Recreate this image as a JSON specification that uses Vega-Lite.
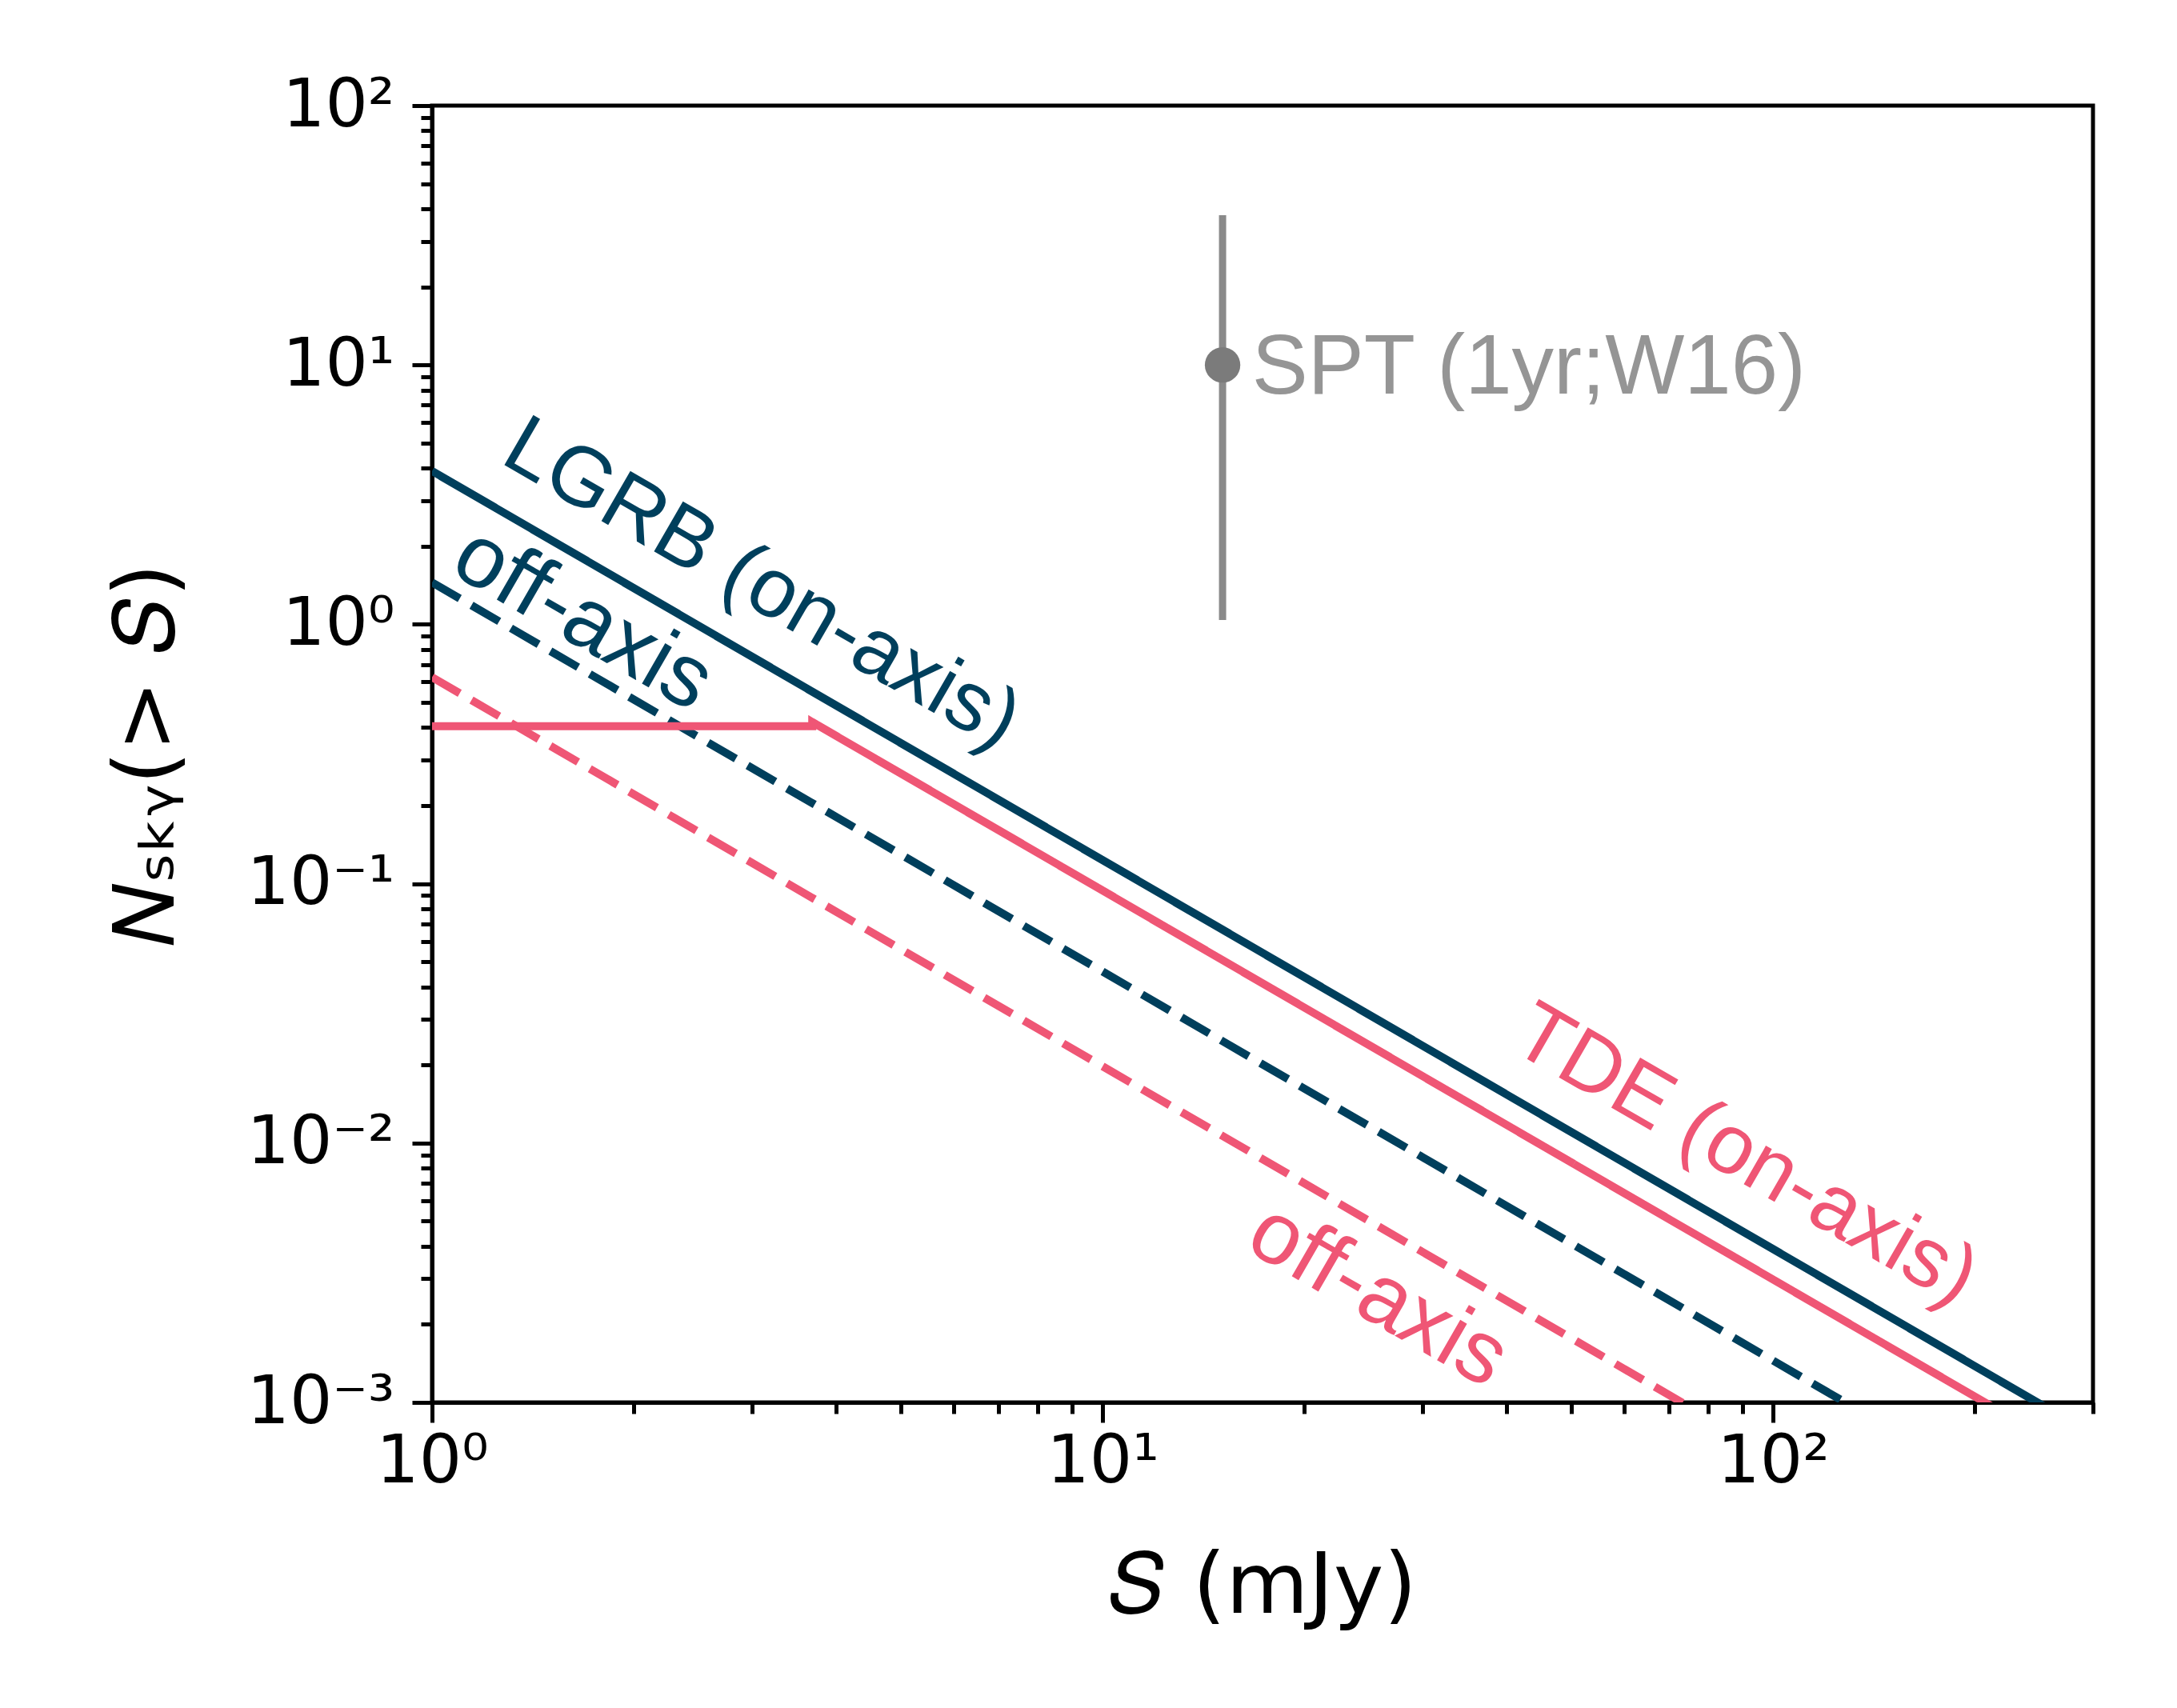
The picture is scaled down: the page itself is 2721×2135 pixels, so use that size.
{
  "$schema": "https://vega.github.io/schema/vega-lite/v6.json",
  "width": 2076,
  "height": 1621,
  "autosize": {"type": "none"},
  "padding": {"left": 540, "top": 132, "right": 105, "bottom": 382},
  "background": "white",
  "datasets": {
    "lines": [
      {"src": "LGRB", "kind": "on", "S": 1, "N": 3.9, "i": 0},
      {"src": "LGRB", "kind": "on", "S": 300, "N": 0.0007506, "i": 1},
      {"src": "LGRB", "kind": "off", "S": 1, "N": 1.45, "i": 0},
      {"src": "LGRB", "kind": "off", "S": 300, "N": 0.000279, "i": 1},
      {"src": "TDE", "kind": "on", "S": 1, "N": 0.405, "i": 0},
      {"src": "TDE", "kind": "on", "S": 3.69, "N": 0.405, "i": 1},
      {"src": "TDE", "kind": "on", "S": 3.69, "N": 0.42, "i": 2},
      {"src": "TDE", "kind": "on", "S": 300, "N": 0.000573, "i": 3},
      {"src": "TDE", "kind": "off", "S": 1, "N": 0.625, "i": 0},
      {"src": "TDE", "kind": "off", "S": 300, "N": 0.0001203, "i": 1}
    ],
    "labels": [
      {"src": "LGRB", "label": "LGRB (on-axis)", "S": 1.256, "N": 4.24, "big": "n"},
      {"src": "LGRB", "label": "off-axis", "S": 1.055, "N": 1.6, "big": "y"},
      {"src": "TDE", "label": "TDE (on-axis)", "S": 40.3, "N": 0.0232, "big": "n"},
      {"src": "TDE", "label": "off-axis", "S": 16.18, "N": 0.00394, "big": "y"}
    ],
    "spt": [
      {"label": "SPT (1yr;W16)", "S": 15.1, "N": 10, "lo": 1.04, "hi": 37.8, "labelS": 16.7}
    ]
  },
  "config": {
    "view": {"stroke": "black", "strokeWidth": 5},
    "axis": {
      "grid": false,
      "domainColor": "black",
      "domainWidth": 5,
      "tickColor": "black",
      "tickWidth": 5,
      "labelFont": "DejaVu Sans",
      "labelFontSize": 84,
      "labelColor": "black",
      "labelOverlap": false,
      "labelFlush": false,
      "labelBound": false,
      "labelLimit": 0,
      "titleFont": "DejaVu Sans",
      "titleFontSize": 106,
      "titleFontWeight": "normal",
      "titleColor": "black"
    }
  },
  "layer": [
    {
      "data": {"name": "lines"},
      "mark": {"type": "line", "strokeWidth": 10, "clip": true, "strokeCap": "butt"},
      "encoding": {
        "x": {
          "field": "S", "type": "quantitative",
          "scale": {"type": "log", "domain": [1, 300], "nice": false},
          "axis": {
            "title": "𝑆 (mJy)",
            "values": [1, 2, 3, 4, 5, 6, 7, 8, 9, 10, 20, 30, 40, 50, 60, 70, 80, 90, 100, 200, 300],
            "labelExpr": "datum.value === 1 ? '10⁰' : datum.value === 10 ? '10¹' : datum.value === 100 ? '10²' : ''",
            "tickSize": {"condition": {"test": "indexof([1, 10, 100], datum.value) >= 0", "value": 25}, "value": 14},
            "labelPadding": 8,
            "titlePadding": 62
          }
        },
        "y": {
          "field": "N", "type": "quantitative",
          "scale": {"type": "log", "domain": [0.001, 100], "nice": false},
          "axis": {
            "title": "𝑁ₛₖᵧ(> 𝑆)",
            "values": [0.001, 0.002, 0.003, 0.004, 0.005, 0.006, 0.007, 0.008, 0.009, 0.01, 0.02, 0.03, 0.04, 0.05, 0.06, 0.07, 0.08, 0.09, 0.1, 0.2, 0.3, 0.4, 0.5, 0.6, 0.7, 0.8, 0.9, 1, 2, 3, 4, 5, 6, 7, 8, 9, 10, 20, 30, 40, 50, 60, 70, 80, 90, 100],
            "labelExpr": "datum.value === 0.001 ? '10⁻³' : datum.value === 0.01 ? '10⁻²' : datum.value === 0.1 ? '10⁻¹' : datum.value === 1 ? '10⁰' : datum.value === 10 ? '10¹' : datum.value === 100 ? '10²' : ''",
            "tickSize": {"condition": {"test": "indexof([0.001, 0.01, 0.1, 1, 10, 100], datum.value) >= 0", "value": 25}, "value": 14},
            "labelPadding": 22,
            "titlePadding": 102
          }
        },
        "color": {"field": "src", "type": "nominal", "scale": {"domain": ["LGRB", "TDE"], "range": ["#003f5c", "#ef5675"]}, "legend": null},
        "strokeDash": {"field": "kind", "type": "nominal", "scale": {"domain": ["on", "off"], "range": [[1, 0], [40, 17]]}, "legend": null},
        "detail": {"field": "kind"},
        "order": {"field": "i", "type": "quantitative"}
      }
    },
    {
      "data": {"name": "spt"},
      "mark": {"type": "rule", "strokeWidth": 9, "color": "#8a8a8a"},
      "encoding": {
        "x": {"field": "S", "type": "quantitative"},
        "y": {"field": "lo", "type": "quantitative"},
        "y2": {"field": "hi"}
      }
    },
    {
      "data": {"name": "spt"},
      "mark": {"type": "circle", "size": 1963, "opacity": 1, "color": "#7b7b7b"},
      "encoding": {
        "x": {"field": "S", "type": "quantitative"},
        "y": {"field": "N", "type": "quantitative"}
      }
    },
    {
      "data": {"name": "spt"},
      "mark": {"type": "text", "font": "Liberation Sans", "fontSize": 105, "align": "left", "baseline": "middle", "color": "#959595", "dy": 4},
      "encoding": {
        "x": {"field": "labelS", "type": "quantitative"},
        "y": {"field": "N", "type": "quantitative"},
        "text": {"field": "label"}
      }
    },
    {
      "data": {"name": "labels"},
      "mark": {"type": "text", "font": "Liberation Sans", "align": "left", "baseline": "alphabetic", "angle": 30},
      "encoding": {
        "x": {"field": "S", "type": "quantitative"},
        "y": {"field": "N", "type": "quantitative"},
        "text": {"field": "label"},
        "color": {"field": "src", "type": "nominal", "legend": null},
        "size": {"field": "big", "type": "nominal", "scale": {"domain": ["n", "y"], "range": [105, 110]}, "legend": null}
      }
    }
  ]
}
